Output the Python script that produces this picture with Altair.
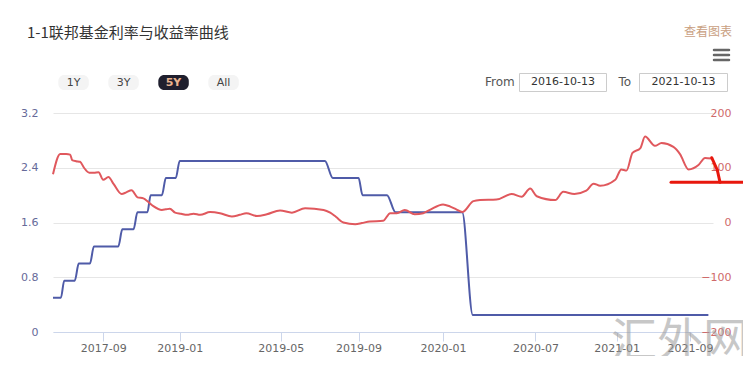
import altair as alt
import pandas as pd

# ---------------- data ----------------
# x is the chart's ordinal position index (0..100 across the plot width)
rate_pos = [0, 1.2, 1.7, 3.3, 3.9, 5.6, 6.2, 9.9, 10.5, 12.2, 12.8, 14.3, 14.8,
            16.5, 17.1, 18.6, 19.2, 41.2, 42.4, 46.3, 46.9, 50.6, 51.9, 62.0,
            63.6, 99.3]
rate_val = [0.5, 0.5, 0.75, 0.75, 1.0, 1.0, 1.25, 1.25, 1.5, 1.5, 1.75, 1.75, 2.0,
            2.0, 2.25, 2.25, 2.5, 2.5, 2.25, 2.25, 2.0, 2.0, 1.75, 1.75,
            0.25, 0.25]

spread_pos = [0, 1.1, 2.0, 2.6, 2.9, 3.5, 4.1, 4.7, 5.5, 6.2, 6.9, 7.6, 8.4, 9.2,
              10.4, 11.1, 11.9, 12.8, 13.7, 14.4, 15.2, 16.5, 17.1, 17.7, 18.5,
              19.4, 20.3, 21.3, 22.3, 23.8, 25.3, 27.1, 28.3, 29.3, 30.9, 32.4,
              34.4, 36.2, 38.2, 41.0, 42.0, 42.9, 44.0, 45.8, 46.8, 48.0, 50.0,
              51.1, 52.1, 53.3, 54.8, 56.1, 57.1, 59.1, 60.2, 61.1, 62.0, 63.7,
              64.7, 67.2, 69.5, 71.0, 72.3, 73.3, 76.1, 77.3, 79.0, 80.8, 81.9,
              82.9, 85.2, 86.1, 86.9, 87.8, 89.0, 89.7, 91.2, 92.2, 94.0, 95.0,
              96.3, 97.8, 98.8, 99.8]
spread_val = [88, 125, 125, 124, 114, 112, 111, 100, 91, 91, 92, 78, 83, 70,
              52, 55, 59, 46, 44, 38, 30, 23, 24, 25, 18,
              16, 14, 16, 14, 19, 17, 11, 14, 17, 12, 15,
              22, 18, 26, 23, 18, 10, 0, -3, -1, 2, 3,
              17, 17, 23, 15, 17, 23, 33, 29, 24, 19, 39,
              41, 42, 52, 47, 62, 48, 41, 56, 52, 58, 71,
              67, 78, 97, 95, 127, 136, 157, 140, 145, 138, 125,
              97, 105, 118, 117]

tick_pos = [7.6, 19.2, 34.5, 46.3, 59.1, 73.1, 85.4, 96.5]
tick_labels = ["2017-09", "2019-01", "2019-05", "2019-09", "2020-01",
               "2020-07", "2021-01", "2021-09"]
left_ticks = [0, 0.8, 1.6, 2.4, 3.2]
right_ticks = [-200, -100, 0, 100, 200]

title_text = "1-1联邦基金利率与收益率曲线"
link_text = "查看图表"
range_buttons = ["1Y", "3Y", "5Y", "All"]
from_label, to_label = "From", "To"
from_date, to_date = "2016-10-13", "2021-10-13"
watermark = "汇外网"

# ---------------- styles ----------------
BLUE = "#4f5ba8"
RED = "#e0585d"
AXIS_LINE = "#ccd6eb"
FONT = "DejaVu Sans"
CJK = "Noto Sans CJK SC"

rate_df = pd.DataFrame({"pos": rate_pos, "rate": rate_val})
spread_df = pd.DataFrame({"pos": spread_pos, "spread": spread_val})

label_expr = "[" + ",".join("'%s'" % s for s in tick_labels) + "][indexof([" + \
    ",".join(str(v) for v in tick_pos) + "], datum.value)]"

x_enc = alt.X("pos:Q",
              scale=alt.Scale(domain=[0, 100], nice=False, zero=False),
              axis=alt.Axis(values=tick_pos, labelExpr=label_expr, grid=False,
                            domainColor=AXIS_LINE, tickColor=AXIS_LINE, tickSize=9,
                            labelColor="#666666", labelFont=FONT, labelFontSize=11,
                            labelPadding=1, title=None, labelFlush=False))

rate_line = alt.Chart(rate_df).mark_line(
    color=BLUE, strokeWidth=2, interpolate="monotone"
).encode(
    x=x_enc,
    y=alt.Y("rate:Q", scale=alt.Scale(domain=[0, 3.2], nice=False, zero=False),
            axis=alt.Axis(orient="left", values=left_ticks, format=".1~f",
                          grid=True, gridColor="#e6e6e6", domain=False, ticks=False,
                          tickSize=0, labelColor="#666a99", labelFont=FONT,
                          labelFontSize=11, labelPadding=15, title=None))
)

spread_line = alt.Chart(spread_df).mark_line(
    color=RED, strokeWidth=2, interpolate="monotone"
).encode(
    x=x_enc,
    y=alt.Y("spread:Q", scale=alt.Scale(domain=[-200, 200], nice=False, zero=False),
            axis=alt.Axis(orient="right", values=right_ticks, grid=False,
                          domain=False, ticks=False, tickSize=0,
                          labelColor="#cf6a6a", labelFont=FONT, labelFontSize=11,
                          labelAlign="right", labelPadding=18, title=None))
)

one = alt.Data(values=[{}])


def text(t, x, y, size=12, color="#333333", align="left", font=CJK, weight="normal",
         opacity=1.0):
    return alt.Chart(one).mark_text(
        text=t, align=align, baseline="middle", fontSize=size, color=color,
        font=font, fontWeight=weight, opacity=opacity
    ).encode(x=alt.value(x), y=alt.value(y))


def box(x1, x2, y1, y2, fill, stroke=None, radius=0):
    kw = dict(fill=fill, cornerRadius=radius)
    if stroke:
        kw.update(stroke=stroke, strokeWidth=1)
    return alt.Chart(one).mark_rect(**kw).encode(
        x=alt.value(x1), x2=alt.value(x2), y=alt.value(y1), y2=alt.value(y2))


def seg(x1, y1, x2, y2, color, width):
    return alt.Chart(one).mark_rule(color=color, strokeWidth=width,
                                    strokeCap="round").encode(
        x=alt.value(x1), x2=alt.value(x2), y=alt.value(y1), y2=alt.value(y2))


deco = []
deco.append(text(title_text, -26, -80, size=15, color="#333333"))
deco.append(text(link_text, 679, -81, size=12, color="#c9a07f", align="right"))
for yy in [-63, -58, -53]:
    deco.append(seg(661, yy, 676, yy, "#666666", 2.5))

btn_x = [5.3, 55.3, 105.3, 155.3]
for i, lab in enumerate(range_buttons):
    sel = lab == "5Y"
    deco.append(box(btn_x[i], btn_x[i] + 30.5, -38, -23,
                    "#1f1f2e" if sel else "#f4f4f4", radius=6))
    deco.append(text(lab, btn_x[i] + 15.2, -30.5, size=11,
                     color="#eab48e" if sel else "#444444", align="center",
                     font=FONT, weight="bold" if sel else "normal"))

deco.append(text(from_label, 432, -31, size=12, color="#555555", font=FONT))
deco.append(box(466.5, 553.5, -39.5, -21.5, "white", stroke="#cccccc"))
deco.append(text(from_date, 510, -31, size=11, color="#333333", align="center", font=FONT))
deco.append(text(to_label, 565.5, -31, size=12, color="#555555", font=FONT))
deco.append(box(586.5, 674.5, -39.5, -21.5, "white", stroke="#cccccc"))
deco.append(text(to_date, 630.5, -31, size=11, color="#333333", align="center", font=FONT))

overlay = [
    text(watermark, 627, 229, size=46, color="#9a9a9a", align="center", opacity=0.55),
    seg(618, 69.3, 690, 69.3, "#e8170d", 3),
    seg(658.7, 44.7, 664.3, 57, "#e8170d", 3),
    seg(664.3, 57, 667, 69.3, "#e8170d", 3),
]

chart = alt.layer(
    rate_line, spread_line, *deco, *overlay
).resolve_scale(
    y="independent"
).properties(
    width=660, height=219,
    autosize=alt.AutoSizeParams(type="none"),
    padding={"left": 45, "top": 105, "right": 30, "bottom": 24},
    background="white"
).configure_view(stroke=None)

chart.save("out.html", embed_options={"renderer": "svg", "actions": False})
